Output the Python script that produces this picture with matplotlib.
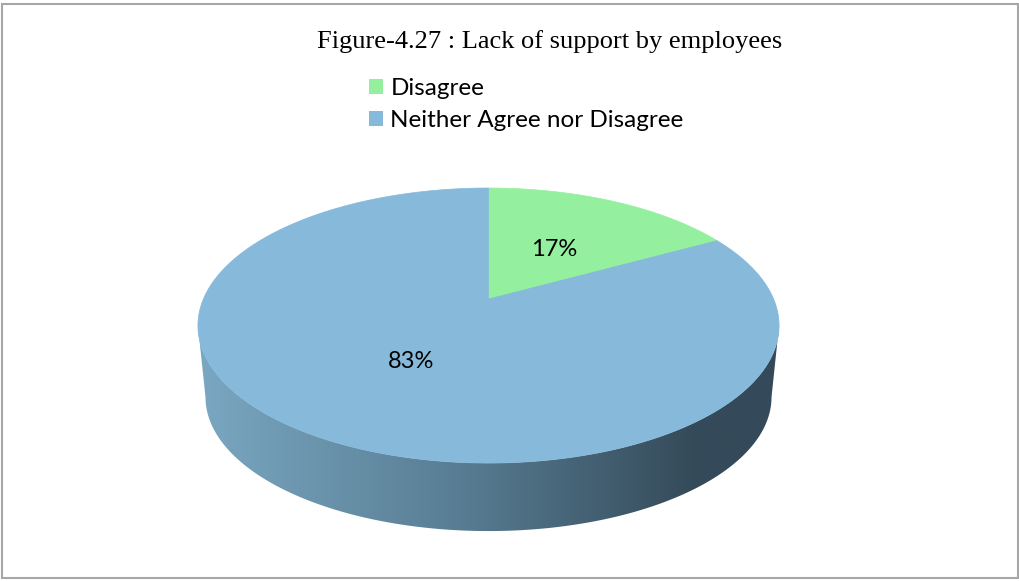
import numpy as np
import matplotlib
matplotlib.use('Agg')
import matplotlib.pyplot as plt
from matplotlib.patches import Polygon, Rectangle, Patch
from matplotlib.colors import LinearSegmentedColormap

# data
labels = ['Disagree', 'Neither Agree nor Disagree']
values = [17, 83]
colors = ['#94f09e', '#86b9da']
title = 'Figure-4.27 : Lack of support by employees'

# perspective pie geometry (pixels, y down)
cx, cy = 488.5, 299.0   # where the pie centre lands on screen
sx, sy = 285.1, 132.4   # horizontal / depth scale
k = 0.193               # perspective strength
depth = 68.0            # wall height at the front

def proj(u, v):
    #u to the right, v away from the viewer, unit circle in the pie plane
    w = 1. + k*v
    return cx + sx*u/w, cy - sy*v/w

# outline of the top face as it appears on screen
ea = sx/np.sqrt(1. - k*k)
eb = sy/(1. - k*k)
ecy = cy + sy*k/(1. - k*k)
# bottom rim, a touch narrower because it is further down
ea2 = ea*0.974
eb2 = eb*0.974
ecy2 = ecy + eb + depth - eb2

fig = plt.figure(figsize=(10.19, 5.81), dpi=100)
ax = fig.add_axes([0, 0, 1, 1])
ax.set_xlim(0, 1019)
ax.set_ylim(581, 0)
ax.axis('off')

ax.add_patch(Rectangle((2, 4), 1016, 574, fill=False, edgecolor='#a6a6a6', lw=1.5))

# side wall (front half of the cylinder)
t = np.linspace(np.pi, 2*np.pi, 200)
topx = cx + ea*np.cos(t)
topy = ecy - eb*np.sin(t)
botx = cx + ea2*np.cos(t)
boty = ecy2 - eb2*np.sin(t)
wallxy = np.r_[np.c_[topx, topy], np.c_[botx, boty][::-1]]
wall = Polygon(wallxy, closed=True, facecolor='none', edgecolor='none')
ax.add_patch(wall)
wcmap = LinearSegmentedColormap.from_list('wall', [(0., '#7aa7c2'), (0.45, '#587d93'),
                                                   (0.85, '#354b5a'), (1., '#34495a')])
grad = np.linspace(0, 1, 256).reshape(1, -1)
im = ax.imshow(grad, cmap=wcmap, aspect='auto', extent=[cx-ea, cx+ea, ecy2+eb2+2, ecy-5],
               interpolation='bilinear', zorder=2)
im.set_clip_path(wall)

# top face slices, clockwise from 12 o'clock
fracs = np.array(values, dtype=float)/np.sum(values)
start = 0.
for f, c, lab in zip(fracs, colors, labels):
    ang = np.linspace(start, start + f*2*np.pi, max(int(f*400), 10))
    px, py = proj(np.sin(ang), np.cos(ang))
    xy = np.r_[[[cx, cy]], np.c_[px, py]]
    ax.add_patch(Polygon(xy, closed=True, facecolor=c, edgecolor=c, lw=0.5, zorder=3))
    mid = start + f*np.pi
    lx, ly = proj(0.49*np.sin(mid), 0.49*np.cos(mid))
    ax.text(lx, ly, '%d%%' % round(f*100), family='Lato', fontsize=17,
            ha='center', va='center_baseline', zorder=4)
    start += f*2*np.pi

ax.text(550, 42, title, family='Liberation Serif', fontsize=19, ha='center', va='center')

handles = [Patch(facecolor=c, edgecolor='none') for c in colors]
ax.legend(handles, labels, loc='upper left', bbox_to_anchor=(369/1019., 1-78/581.),
          frameon=False, prop={'family': 'Lato', 'size': 17.5},
          handlelength=0.58, handleheight=0.58, handletextpad=0.3, labelspacing=0.45,
          borderpad=0, borderaxespad=0)

fig.savefig('out.png', dpi=100)
